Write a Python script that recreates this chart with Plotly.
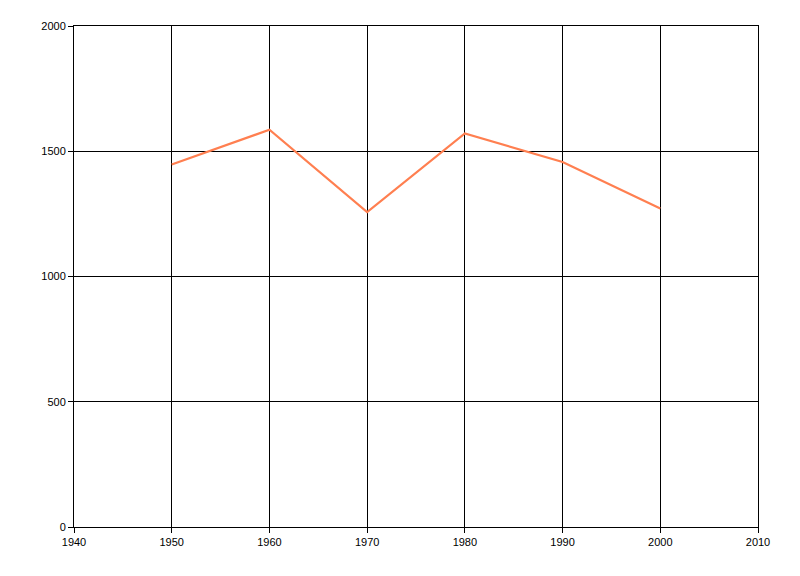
import plotly.graph_objects as go

years = [1950, 1960, 1970, 1980, 1990, 2000]
values = [1447, 1586, 1257, 1571, 1457, 1271]
x_ticks = [1940, 1950, 1960, 1970, 1980, 1990, 2000, 2010]
y_ticks = [0, 500, 1000, 1500, 2000]

fig = go.Figure()
fig.add_trace(go.Scatter(x=years, y=values, mode="lines",
                         line=dict(color="#FF7F50", width=2.2)))

axis_common = dict(showgrid=True, gridcolor="black", gridwidth=1,
                   showline=True, linecolor="black", linewidth=1, mirror=True,
                   ticks="outside", ticklen=5, tickcolor="black", zeroline=False,
                   tickfont=dict(family="Liberation Sans, Arial, sans-serif", size=11, color="black"))

fig.update_layout(
    width=800, height=576,
    margin=dict(l=66, r=50, t=18, b=57),
    paper_bgcolor="white", plot_bgcolor="white",
    showlegend=False,
    xaxis=dict(range=[1940, 2010], tickvals=x_ticks, **axis_common),
    yaxis=dict(range=[0, 2000], tickvals=y_ticks, **axis_common),
)
fig.write_html("out.html")
